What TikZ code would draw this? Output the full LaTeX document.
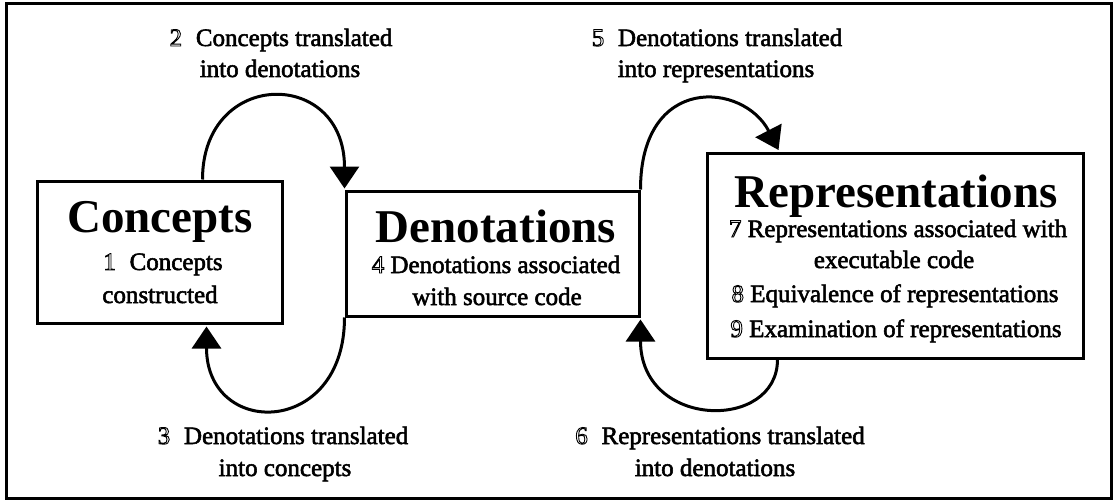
\documentclass[tikz,border=0pt]{standalone}
\usepackage{fontspec}
\setmainfont{Liberation Serif}
\usetikzlibrary{arrows.meta}
\newcommand{\heavyon}{\special{pdf:literal direct 2 Tr 0.55 w}}
\newcommand{\heavyoff}{\special{pdf:literal direct 0 Tr}}
\newcommand{\outdig}[1]{\special{pdf:literal direct 1 Tr 0.9 w}#1\heavyon}
\begin{document}
\begin{tikzpicture}[x=1pt,y=-1pt,
  box/.style={draw, line width=3pt, inner sep=0pt},
  ttl/.style={font=\fontsize{47}{50}\selectfont\bfseries, anchor=base, inner sep=0pt},
  txt/.style={font=\fontsize{25}{30}\selectfont, anchor=base, inner sep=0pt,
    execute at begin node=\heavyon, execute at end node=\heavyoff},
  loopline/.style={draw, line width=3pt, -{Triangle[length=22pt,width=29pt]}}]
\useasboundingbox (0,0) rectangle (1117,503);
\node[box, minimum width=1105pt, minimum height=494pt] (frame) at (558.5,251) {};
% boxes
\node[box, minimum width=245pt, minimum height=142pt] (C) at (159.5,252) {};
\node[box, minimum width=293pt, minimum height=125pt] (D) at (492.5,253.5) {};
\node[box, minimum width=376pt, minimum height=205pt] (R) at (895,255.5) {};
% box texts
\node[ttl] (Ct) at (160,232) {Concepts};
\node[txt] (C1) at (163,270) {\outdig{1}\hspace{0.55em}Concepts};
\node[txt] (C2) at (160,303) {constructed};
\node[ttl] (Dt) at (496,242) {Denotations};
\node[txt] (D1) at (496,273) {\outdig{4} Denotations associated};
\node[txt] (D2) at (497,305) {with source code};
\node[ttl] (Rt) at (896,207) {Representations};
\node[txt] (R1) at (898,237) {\outdig{7} Representations associated with};
\node[txt] (R2) at (894,268) {executable code};
\node[txt] (R3) at (895,302) {\outdig{8} Equivalence of representations};
\node[txt] (R4) at (896,337) {\outdig{9} Examination of representations};
% loop labels
\node[txt] (L2a) at (281,46) {\outdig{2}\hspace{0.55em}Concepts translated};
\node[txt] (L2b) at (280,77) {into denotations};
\node[txt] (L5a) at (717,46) {\outdig{5}\hspace{0.55em}Denotations translated};
\node[txt] (L5b) at (716,77) {into representations};
\node[txt] (L3a) at (283,444) {\outdig{3}\hspace{0.55em}Denotations translated};
\node[txt] (L3b) at (285,476) {into concepts};
\node[txt] (L6a) at (720,444) {\outdig{6}\hspace{0.55em}Representations translated};
\node[txt] (L6b) at (715,476) {into denotations};
% connector ends
\coordinate (l2s) at ([xshift=167pt]C.north west);
\coordinate (l2e) at ([yshift=1pt]D.north west);
\coordinate (l3e) at ([xshift=171pt,yshift=-2pt]C.south west);
\coordinate (l5e) at ([xshift=73pt,yshift=1.5pt]R.north west);
\coordinate (l6s) at ([xshift=72pt]R.south west);
\coordinate (l6e) at ([yshift=-2pt]D.south east);
% loops
\draw[loopline] (l2s) .. controls +(0,-111) and +(0,-121) .. (l2e);
\draw[loopline] (D.south west) .. controls +(0,120) and +(0,112) .. (l3e);
\draw[loopline] (D.north east) .. controls +(0,-116) and +(-35,-68) .. (l5e);
\draw[loopline] (l6s) .. controls +(0,72) and +(0,110) .. (l6e);
\end{tikzpicture}
\end{document}
